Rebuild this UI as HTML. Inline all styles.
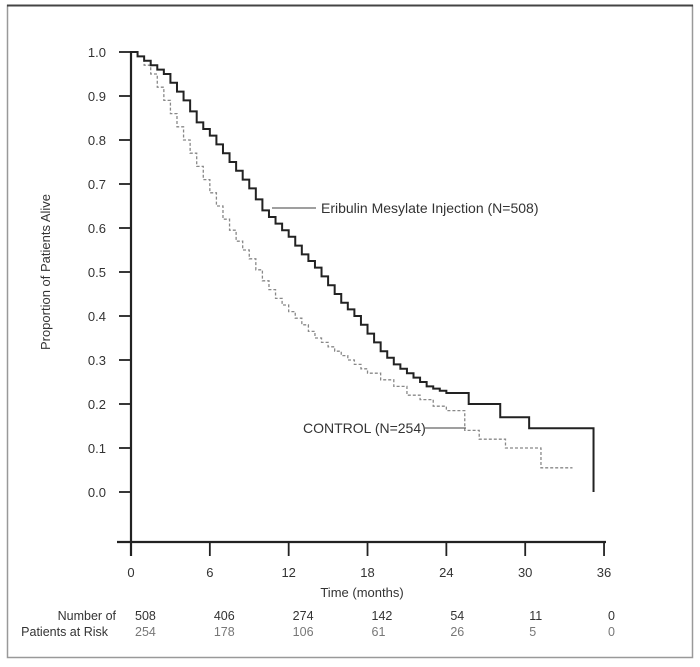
<!DOCTYPE html>
<html><head><meta charset="utf-8"><style>
body{margin:0;background:#fff;}
svg{display:block;font-family:"Liberation Sans",Arial,sans-serif;}
</style></head><body>
<svg id="chart" width="700" height="667">
<rect x="7.5" y="5.5" width="685" height="652" fill="#fff" stroke="#999" stroke-width="1.5"/>
<line x1="7" y1="5.5" x2="693" y2="5.5" stroke="#444" stroke-width="2"/>
<g id="axes"></g>
<g id="series"></g>
<g id="labels"></g>
<text x="50" y="272" font-size="13" fill="#333" text-anchor="middle" transform="rotate(-90 50 272)">Proportion of Patients Alive</text>
<text x="362" y="597" font-size="13" fill="#333" text-anchor="middle">Time (months)</text>
<line x1="272" y1="208" x2="316" y2="208" stroke="#666" stroke-width="1.2"/>
<text x="321" y="213" font-size="14" fill="#333">Eribulin Mesylate Injection (N=508)</text>
<text x="303" y="433" font-size="14" fill="#333">CONTROL (N=254)</text>
<line x1="425" y1="428" x2="466" y2="428" stroke="#666" stroke-width="1.2"/>
<text x="116" y="620" font-size="12.5" fill="#333" text-anchor="end">Number of</text>
<text x="108" y="636" font-size="12.5" fill="#333" text-anchor="end">Patients at Risk</text>
</svg>
<script>
const xTicks=[0,6,12,18,24,30,36];
const yTicks=[0,0.1,0.2,0.3,0.4,0.5,0.6,0.7,0.8,0.9,1.0];
const eribT=[0,0.5,1,1.5,2,2.5,3,3.5,4,4.5,5,5.5,6,6.5,7,7.5,8,8.5,9,9.5,10,10.5,11,11.5,12,12.5,13,13.5,14,14.5,15,15.5,16,16.5,17,17.5,18,18.5,19,19.5,20,20.5,21,21.5,22,22.5,23,23.5,24,25.7,28.1,30.3,35.2];
const eribS=[1,0.99,0.98,0.97,0.96,0.95,0.93,0.91,0.89,0.865,0.84,0.825,0.81,0.79,0.77,0.75,0.73,0.71,0.69,0.665,0.64,0.625,0.61,0.595,0.58,0.56,0.54,0.525,0.51,0.49,0.47,0.45,0.43,0.415,0.40,0.38,0.36,0.34,0.32,0.305,0.29,0.28,0.27,0.26,0.25,0.24,0.235,0.23,0.225,0.2,0.17,0.145,0];
const ctrlT=[0,0.5,1,1.5,2,2.5,3,3.5,4,4.5,5,5.5,6,6.5,7,7.5,8,8.5,9,9.5,10,10.5,11,11.5,12,12.5,13,13.5,14,14.5,15,15.5,16,16.5,17,17.5,18,19,20,21,22,23,24,25.4,26.5,28.5,31.2,33.6];
const ctrlS=[1,0.99,0.97,0.95,0.92,0.89,0.86,0.83,0.80,0.77,0.74,0.71,0.68,0.65,0.62,0.595,0.57,0.55,0.53,0.505,0.48,0.46,0.44,0.425,0.41,0.395,0.38,0.365,0.35,0.34,0.33,0.32,0.31,0.30,0.29,0.28,0.27,0.255,0.24,0.22,0.21,0.195,0.185,0.14,0.12,0.1,0.055,0.055];
const riskErib=[508,406,274,142,54,11,0];
const riskCtrl=[254,178,106,61,26,5,0];
const NS="http://www.w3.org/2000/svg";
const X=t=>131+t*13.14, Y=s=>492-s*440;
function mk(tag,attrs,parent,text){const e=document.createElementNS(NS,tag);for(const k in attrs)e.setAttribute(k,attrs[k]);if(text!==undefined)e.textContent=text;parent.appendChild(e);return e;}
const ax=document.getElementById('axes'),se=document.getElementById('series'),lb=document.getElementById('labels');
let e=mk('line',{x1:131,y1:51,x2:131,y2:556,stroke:'#222','stroke-width':2.2},ax);


e=mk('line',{x1:117,y1:542,x2:606,y2:542,stroke:'#222','stroke-width':2.2},ax);


yTicks.forEach(v=>{
 let t=mk('line',{x1:119,y1:Y(v),x2:131,y2:Y(v),stroke:'#222','stroke-width':1.8},ax);
 
 
 let l=mk('text',{x:106,y:Y(v)+5,'text-anchor':'end','font-size':13,fill:'#333'},ax,v.toFixed(1));
 
 
});
xTicks.forEach((v,i)=>{
 let t=mk('line',{x1:X(v),y1:542,x2:X(v),y2:556,stroke:'#222','stroke-width':1.8},ax);
 
 
 let l=mk('text',{x:X(v),y:577,'text-anchor':'middle','font-size':13,fill:'#333'},ax,String(v));
 
 
 let r1=mk('text',{x:X(v)+4,y:620,'font-size':12.5,fill:'#333'},lb,String(riskErib[i]));
 
 
 let r2=mk('text',{x:X(v)+4,y:636,'font-size':12.5,fill:'#777'},lb,String(riskCtrl[i]));
 
 
});
function step(T,S){let d='M'+X(T[0])+','+Y(S[0]);for(let i=1;i<T.length;i++){d+=' H'+X(T[i])+' V'+Y(S[i]);}return d;}
e=mk('path',{d:step(ctrlT,ctrlS),fill:'none',stroke:'#888','stroke-width':1.3,'stroke-dasharray':'3,2'},se);


e=mk('path',{d:step(eribT,eribS),fill:'none',stroke:'#222','stroke-width':2},se);


</script>
</body></html>
